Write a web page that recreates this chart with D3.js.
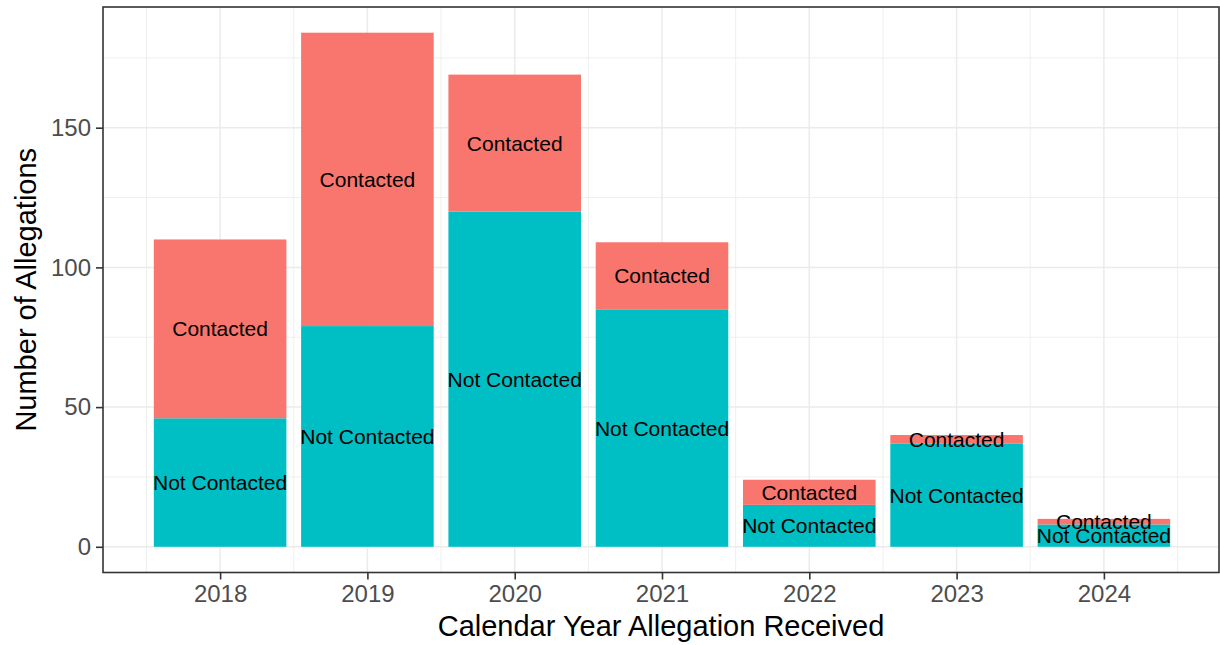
<!DOCTYPE html>
<html>
<head>
<meta charset="utf-8">
<script src="https://cdn.jsdelivr.net/npm/d3@7"></script>
<style>
  body { margin: 0; background: #fff; }
  text { font-family: "Liberation Sans", Arial, sans-serif; }
</style>
</head>
<body>
<div class="chart-area"></div>
<script>
// data
var years = [2018, 2019, 2020, 2021, 2022, 2023, 2024];
var notContacted = [46, 79, 120, 85, 15, 37, 8];
var contacted = [64, 105, 49, 24, 9, 3, 2];
var yTicks = [0, 50, 100, 150];
var yMinor = [25, 75, 125, 175];

var svg = d3.select(".chart-area").append("svg")
    .attr("width", 1220)
    .attr("height", 645);

var panelLeft = 103, panelRight = 1219, panelTop = 7, panelBottom = 572.5;

// continuous x like ggplot, bar width 0.9 and 5% expansion
var xMin = years[0] - 0.45, xMax = years[years.length - 1] + 0.45;
var xPad = (xMax - xMin) * 0.05;
var x = d3.scaleLinear()
    .domain([xMin - xPad, xMax + xPad])
    .range([panelLeft, panelRight + 2]);

var totals = years.map(function(d, i) { return notContacted[i] + contacted[i]; });
var yMaxVal = d3.max(totals);
var y = d3.scaleLinear()
    .domain([-yMaxVal * 0.05, yMaxVal * 1.05])
    .range([panelBottom, panelTop]);

// grid
var grid = svg.append("g");
var xMinor = d3.range(years[0] - 0.5, years[years.length - 1] + 1, 1);
grid.selectAll("line.xminor").data(xMinor).enter().append("line")
    .attr("x1", function(d) { return x(d); })
    .attr("x2", function(d) { return x(d); })
    .attr("y1", panelTop).attr("y2", panelBottom)
    .attr("stroke", "#ebebeb").attr("stroke-width", 0.8);
grid.selectAll("line.yminor").data(yMinor).enter().append("line")
    .attr("y1", function(d) { return y(d); })
    .attr("y2", function(d) { return y(d); })
    .attr("x1", panelLeft).attr("x2", panelRight)
    .attr("stroke", "#ebebeb").attr("stroke-width", 0.8);
grid.selectAll("line.xmajor").data(years).enter().append("line")
    .attr("x1", function(d) { return x(d); })
    .attr("x2", function(d) { return x(d); })
    .attr("y1", panelTop).attr("y2", panelBottom)
    .attr("stroke", "#ebebeb").attr("stroke-width", 1.5);
grid.selectAll("line.ymajor").data(yTicks).enter().append("line")
    .attr("y1", function(d) { return y(d); })
    .attr("y2", function(d) { return y(d); })
    .attr("x1", panelLeft).attr("x2", panelRight)
    .attr("stroke", "#ebebeb").attr("stroke-width", 1.5);

// stacked bars
var halfW = 0.45;
var bars = svg.append("g");
bars.selectAll("rect.nc").data(years).enter().append("rect")
    .attr("x", function(d) { return x(d - halfW); })
    .attr("width", function(d) { return x(d + halfW) - x(d - halfW); })
    .attr("y", function(d, i) { return y(notContacted[i]); })
    .attr("height", function(d, i) { return y(0) - y(notContacted[i]); })
    .attr("fill", "#00BFC4");
bars.selectAll("rect.c").data(years).enter().append("rect")
    .attr("x", function(d) { return x(d - halfW); })
    .attr("width", function(d) { return x(d + halfW) - x(d - halfW); })
    .attr("y", function(d, i) { return y(totals[i]); })
    .attr("height", function(d, i) { return y(notContacted[i]) - y(totals[i]); })
    .attr("fill", "#F8766D");

// labels in the middle of each segment
var labels = svg.append("g")
    .attr("font-size", "21px")
    .attr("text-anchor", "middle")
    .attr("fill", "#000");
labels.selectAll("text.nc").data(years).enter().append("text")
    .attr("x", function(d) { return x(d); })
    .attr("y", function(d, i) { return y(notContacted[i] / 2); })
    .attr("dy", "0.36em")
    .text("Not Contacted");
labels.selectAll("text.c").data(years).enter().append("text")
    .attr("x", function(d) { return x(d); })
    .attr("y", function(d, i) { return y(notContacted[i] + contacted[i] / 2); })
    .attr("dy", "0.36em")
    .text("Contacted");

// panel border
svg.append("rect")
    .attr("x", panelLeft).attr("y", panelTop)
    .attr("width", panelRight - panelLeft).attr("height", panelBottom - panelTop)
    .attr("fill", "none").attr("stroke", "#333333").attr("stroke-width", 1.6);

// axes
var xAxis = svg.append("g")
    .attr("transform", "translate(0," + panelBottom + ")")
    .call(d3.axisBottom(x).tickValues(years).tickFormat(d3.format("d")).tickSizeInner(7).tickSizeOuter(0).tickPadding(5));
var yAxis = svg.append("g")
    .attr("transform", "translate(" + panelLeft + ",0)")
    .call(d3.axisLeft(y).tickValues(yTicks).tickSizeInner(7).tickSizeOuter(0).tickPadding(5));

[xAxis, yAxis].forEach(function(a) {
    a.select(".domain").remove();
    a.selectAll(".tick line").attr("stroke", "#333333").attr("stroke-width", 1.6);
    a.selectAll(".tick text")
        .attr("fill", "#4d4d4d")
        .style("font-size", "24px")
        .style("font-family", "Liberation Sans, Arial, sans-serif");
});

// axis titles
svg.append("text")
    .attr("x", (panelLeft + panelRight) / 2)
    .attr("y", 636)
    .attr("text-anchor", "middle")
    .attr("font-size", "29px")
    .text("Calendar Year Allegation Received");
svg.append("text")
    .attr("transform", "translate(36," + ((panelTop + panelBottom) / 2) + ") rotate(-90)")
    .attr("text-anchor", "middle")
    .attr("font-size", "29px")
    .text("Number of Allegations");
</script>
</body>
</html>
